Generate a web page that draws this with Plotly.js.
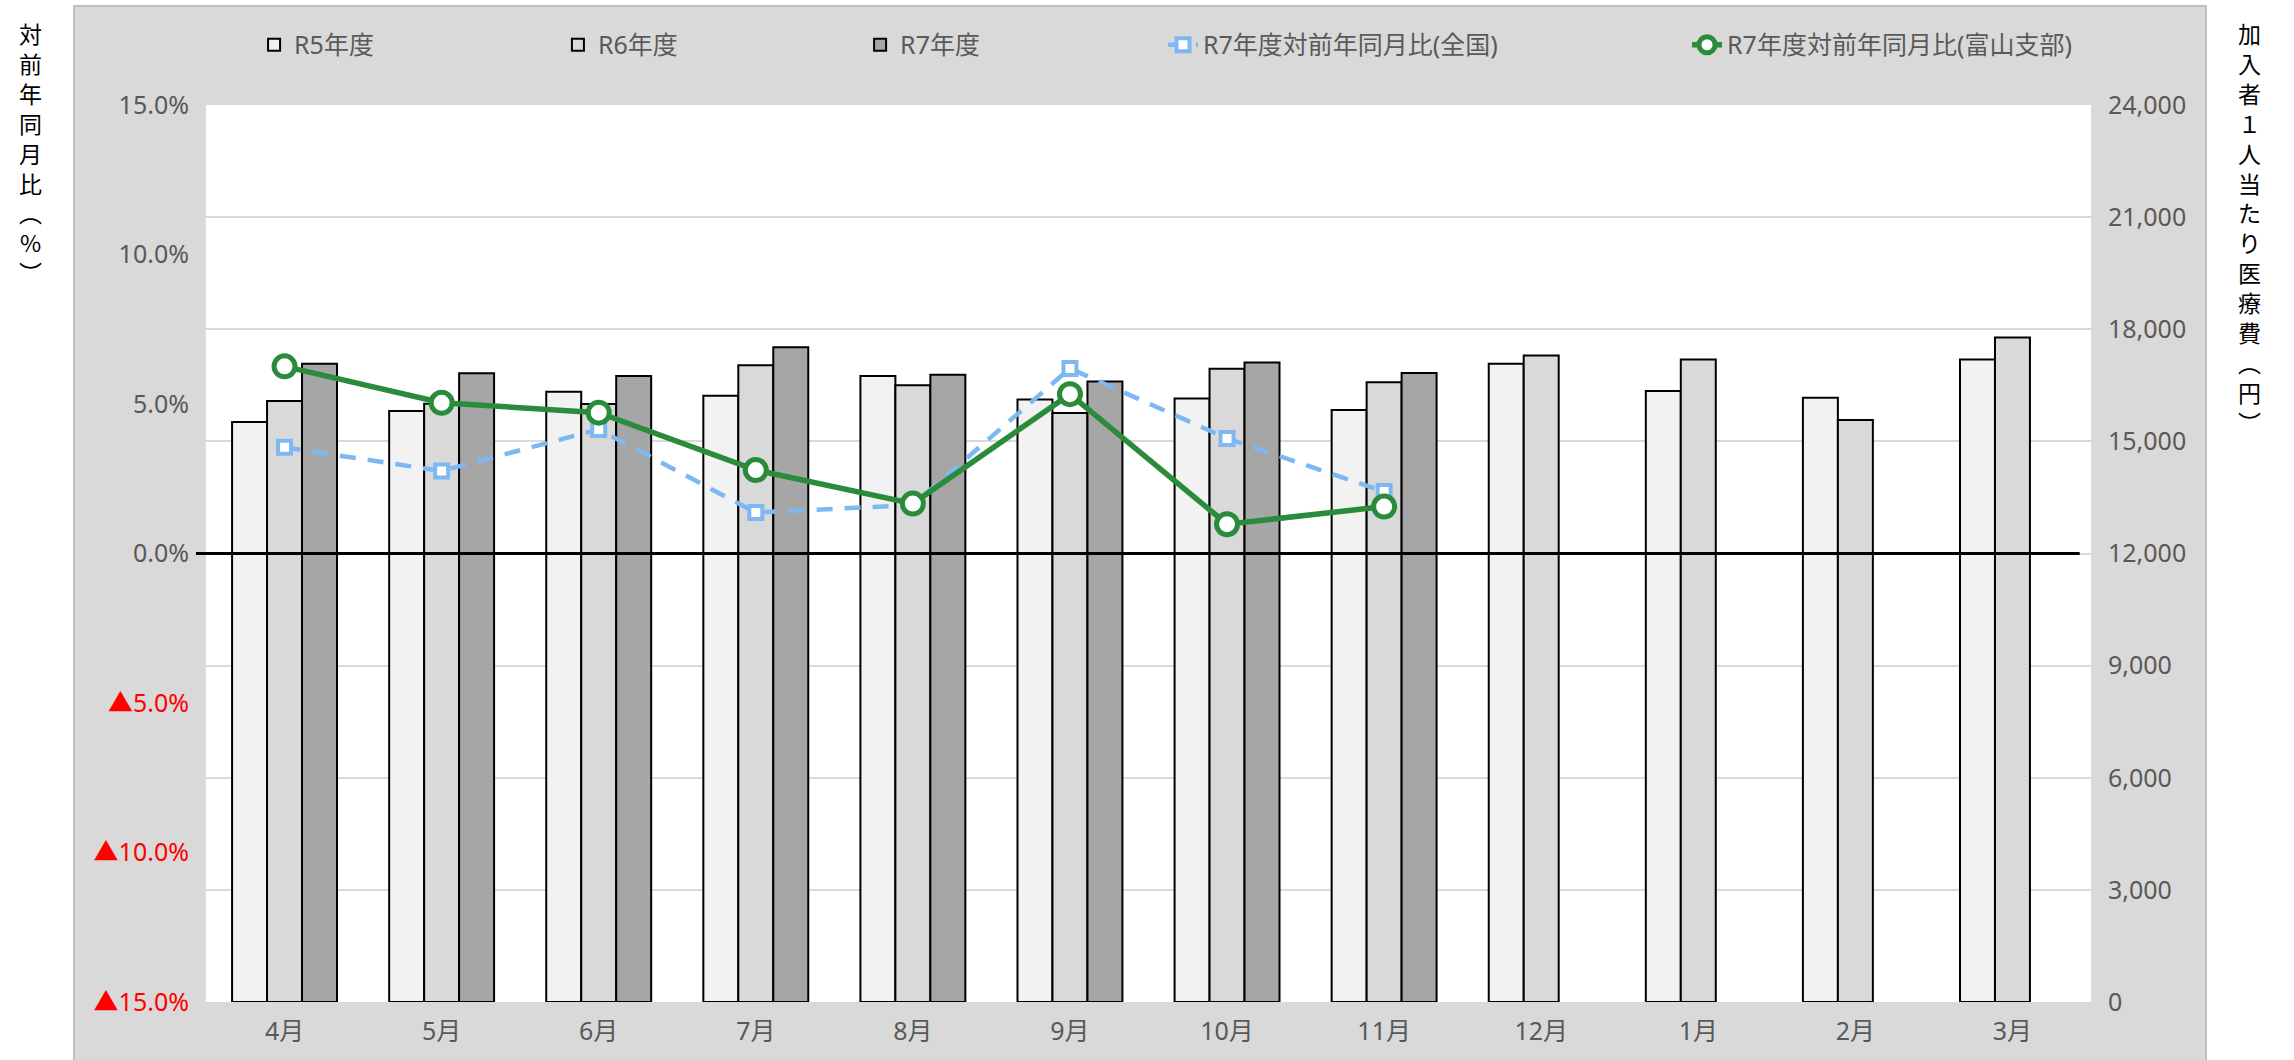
<!DOCTYPE html>
<html>
<head>
<meta charset="utf-8">
<script src="https://cdn.plot.ly/plotly-3.0.1.min.js"></script>
<style>
html, body { margin: 0; padding: 0; background: #ffffff; }
#chart { width: 2294px; height: 1060px; }
</style>
</head>
<body>
<div id="chart"></div>
<script>
// ---- data ----
const months = ['4月', '5月', '6月', '7月', '8月', '9月', '10月', '11月', '12月', '1月', '2月', '3月'];
const costR5 = [15520, 15810, 16330, 16220, 16750, 16120, 16150, 15840, 17080, 16350, 16170, 17190];
const costR6 = [16080, 16010, 16000, 17040, 16500, 15760, 16940, 16580, 17300, 17190, 15570, 17780];
const costR7 = [17080, 16820, 16750, 17520, 16780, 16600, 17110, 16830, null, null, null, null];
const ratioNational = [3.55, 2.76, 4.15, 1.37, 1.62, 6.19, 3.85, 2.07];
const ratioToyama = [6.26, 5.04, 4.71, 2.79, 1.67, 5.33, 0.98, 1.57];
const pctTickVals = [-15, -10, -5, 0, 5, 10, 15];
const pctTickText = ['▲15.0%', '▲10.0%', '▲5.0%', '0.0%', '5.0%', '10.0%', '15.0%'];
const seriesNames = ['R5年度', 'R6年度', 'R7年度', 'R7年度対前年同月比(全国)', 'R7年度対前年同月比(富山支部)'];
const leftTitle = '対前年同月比(%)';
const rightTitle = '加入者１人当たり医療費(円)';

// ---- styling ----
const FONT = 'Noto Sans, "Noto Sans CJK JP", sans-serif';
const TICK_GRAY = '#595959';
const BLUE = '#7DB8F2';
const GREEN = '#2A8B3A';

function verticalText(s) {
  const map = { '(': '\uFE35', ')': '\uFE36' };
  return Array.from(s).map(c => map[c] || c).join('<br>');
}

const tickTextStyled = pctTickText.map(t => t.startsWith('▲') ? '<span style="color:#FF0000">' + t + '</span>' : t);

const barLine = { color: '#000000', width: 2 };
const traces = [
  { type: 'bar', x: months, y: costR5, name: seriesNames[0], yaxis: 'y', legend: 'legend',
    marker: { color: '#F2F2F2', line: barLine } },
  { type: 'bar', x: months, y: costR6, name: seriesNames[1], yaxis: 'y', legend: 'legend2',
    marker: { color: '#D9D9D9', line: barLine } },
  { type: 'bar', x: months, y: costR7, name: seriesNames[2], yaxis: 'y', legend: 'legend3',
    marker: { color: '#A6A6A6', line: barLine } },
  { type: 'scatter', mode: 'lines+markers', x: months.slice(0, ratioNational.length), y: ratioNational,
    name: seriesNames[3], yaxis: 'y2', legend: 'legend4',
    line: { color: BLUE, width: 4.5, dash: '16px,12px' },
    marker: { symbol: 'square', size: 13, color: '#FFFFFF', line: { color: BLUE, width: 4 } } },
  { type: 'scatter', mode: 'lines+markers', x: months.slice(0, ratioToyama.length), y: ratioToyama,
    name: seriesNames[4], yaxis: 'y2', legend: 'legend5',
    line: { color: GREEN, width: 5.5 },
    marker: { symbol: 'circle', size: 21, color: '#FFFFFF', line: { color: GREEN, width: 5 } } }
];

const legendFont = { family: FONT, size: 25, color: TICK_GRAY };
function legendAt(x) {
  return { x: x, y: 1.0669, xanchor: 'left', yanchor: 'middle', orientation: 'h',
           bgcolor: 'rgba(0,0,0,0)', borderwidth: 0, font: legendFont };
}

const layout = {
  width: 2294, height: 1060,
  margin: { l: 206, r: 203, t: 105, b: 58, autoexpand: false },
  paper_bgcolor: '#FFFFFF',
  plot_bgcolor: 'rgba(0,0,0,0)',
  barmode: 'group', bargap: 0.332, bargroupgap: 0,
  showlegend: true,
  legend: legendAt(0.0255),
  legend2: legendAt(0.1867),
  legend3: legendAt(0.347),
  legend4: legendAt(0.5077),
  legend5: legendAt(0.7857),
  xaxis: { type: 'category', range: [-0.5, months.length - 0.5], autorange: false,
           showgrid: false, zeroline: false, showline: false, ticks: '',
           ticklabelstandoff: 12,
           tickfont: { family: FONT, size: 25, color: TICK_GRAY } },
  yaxis: { side: 'right', range: [0, 24000], dtick: 3000, tickformat: ',d',
           showgrid: true, gridcolor: '#D9D9D9', gridwidth: 2, zeroline: false, showline: false,
           ticks: '', ticklabelstandoff: 16,
           tickfont: { family: FONT, size: 25, color: TICK_GRAY } },
  yaxis2: { overlaying: 'y', side: 'left', range: [-15, 15], tickmode: 'array',
            tickvals: pctTickVals, ticktext: tickTextStyled,
            showgrid: false, zeroline: false, showline: false, ticks: '', ticklabelstandoff: 16,
            tickfont: { family: FONT, size: 25, color: TICK_GRAY } },
  shapes: [
    { type: 'rect', xref: 'paper', yref: 'paper', x0: -0.0700, x1: 1.0610, y0: -0.09, y1: 1.1104,
      fillcolor: '#D9D9D9', line: { color: '#BFBFBF', width: 2 }, layer: 'below' },
    { type: 'rect', xref: 'paper', yref: 'paper', x0: 0, x1: 1, y0: 0, y1: 1,
      fillcolor: '#FFFFFF', line: { width: 0 }, layer: 'below' },
    { type: 'line', xref: 'paper', yref: 'y2', x0: -0.0053, x1: 0.994, y0: 0, y1: 0,
      line: { color: '#000000', width: 3 }, layer: 'above' }
  ],
  annotations: [
    { xref: 'paper', yref: 'paper', x: (30 - 206) / 1885, y: (1002 - 14) / 897,
      xanchor: 'center', yanchor: 'top', showarrow: false, align: 'center',
      text: verticalText(leftTitle), font: { family: '"Noto Sans CJK JP", sans-serif', size: 23, color: '#000000' } },
    { xref: 'paper', yref: 'paper', x: (2249 - 206) / 1885, y: (1002 - 14) / 897,
      xanchor: 'center', yanchor: 'top', showarrow: false, align: 'center',
      text: verticalText(rightTitle), font: { family: '"Noto Sans CJK JP", sans-serif', size: 23, color: '#000000' } }
  ]
};

Plotly.newPlot('chart', traces, layout, { displayModeBar: false, staticPlot: true });
</script>
</body>
</html>
